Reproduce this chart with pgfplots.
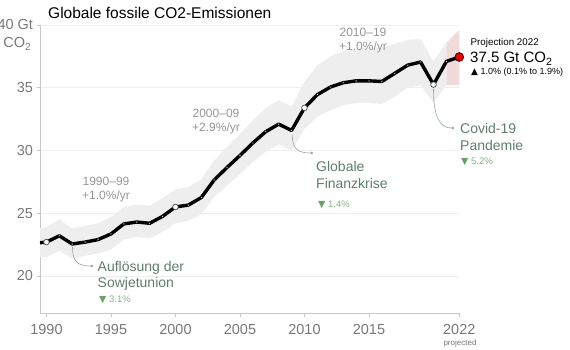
\documentclass[border=0pt]{standalone}
\usepackage{fontspec}
\setmainfont{Liberation Sans}
\newfontfamily\symfont{DejaVu Sans}
\usepackage{pgfplots}
\usepackage{pgfplotstable}
\pgfplotsset{compat=1.18}
\usepgfplotslibrary{fillbetween}
\usetikzlibrary{arrows.meta}
\definecolor{bandgray}{RGB}{238,238,238}
\definecolor{projpink}{RGB}{241,218,218}
\definecolor{tickgray}{RGB}{120,120,120}
\definecolor{pergray}{RGB}{150,150,150}
\definecolor{anngreen}{RGB}{95,125,108}
\definecolor{trigreen}{RGB}{105,160,105}
\definecolor{pctgreen}{RGB}{135,180,135}
\definecolor{leader}{RGB}{150,165,155}
\definecolor{gridc}{RGB}{238,238,238}
\definecolor{axisc}{RGB}{200,200,200}
\definecolor{reddot}{RGB}{230,0,0}

\pgfplotstableread{
year v up lo
1989.5 22.65 23.8 21.5
1990 22.7 23.9 21.5
1991 23.2 24.5 22.0
1992 22.55 23.8 21.4
1993 22.7 24.0 21.6
1994 22.9 24.2 21.8
1995 23.35 24.7 22.1
1996 24.15 25.5 22.9
1997 24.3 25.7 23.1
1998 24.2 25.6 23.0
1999 24.75 26.2 23.5
2000 25.5 26.9 24.2
2001 25.65 27.1 24.4
2002 26.25 27.7 24.9
2003 27.65 29.2 26.3
2004 28.65 30.3 27.2
2005 29.6 31.3 28.1
2006 30.6 32.4 29.1
2007 31.5 33.4 29.9
2008 32.1 34.0 30.5
2009 31.6 33.5 30.0
2010 33.4 35.5 31.7
2011 34.45 36.8 32.7
2012 35.05 37.5 33.2
2013 35.4 37.9 33.6
2014 35.55 38.1 33.8
2015 35.55 38.2 33.8
2016 35.5 38.2 33.7
2017 36.15 38.5 34.3
2018 36.8 38.8 35.0
2019 37.05 38.9 35.2
2020 35.25 37.1 33.8
2021 37.1 38.6 35.2
}\banddata

\pgfplotstableread{
year v
1989.5 22.65
1990 22.7
1991 23.2
1992 22.55
1993 22.7
1994 22.9
1995 23.35
1996 24.15
1997 24.3
1998 24.2
1999 24.75
2000 25.5
2001 25.65
2002 26.25
2003 27.65
2004 28.65
2005 29.6
2006 30.6
2007 31.5
2008 32.1
2009 31.6
2010 33.4
2011 34.45
2012 35.05
2013 35.4
2014 35.55
2015 35.55
2016 35.5
2017 36.15
2018 36.8
2019 37.05
2020 35.25
2021 37.1
2022 37.45
}\linedata

\newcommand\annfont{\fontsize{14bp}{16bp}\selectfont}
\newcommand\perfont{\fontsize{12bp}{14.5bp}\selectfont}
\newcommand\pctfont{\fontsize{9.5bp}{10bp}\selectfont}

\begin{document}
\begin{tikzpicture}
\begin{axis}[
  at={(0,0)}, anchor=south west,
  scale only axis, width=419.3bp, height=288bp,
  xmin=1989.5, xmax=2022, ymin=17.05, ymax=40,
  axis x line*=bottom, axis y line*=left,
  axis line style={draw=axisc, line width=0.8bp},
  xtick={1990,1995,2000,2005,2010,2015,2022},
  xticklabels={1990,1995,2000,2005,2010,2015,2022},
  ytick={20,25,30,35,40},
  yticklabels={20,25,30,35,40 Gt},
  xticklabel style={font=\fontsize{14.5bp}{14.5bp}\selectfont, text=tickgray, yshift=-4bp},
  yticklabel style={font=\fontsize{14.5bp}{14.5bp}\selectfont, text=tickgray},
  tick style={draw=axisc, line width=0.8bp},
  major tick length=3.5bp,
  tick align=outside,
  ymajorgrids, major grid style={draw=gridc, line width=0.8bp},
  clip=false,
]
\addplot[name path=up, draw=none] table[x=year, y=up] {\banddata};
\addplot[name path=lo, draw=none] table[x=year, y=lo] {\banddata};
\addplot[fill=bandgray, draw=none] fill between[of=up and lo];
\addplot[fill=projpink, draw=none] coordinates {(2021,35.2) (2021,38.6) (2022,39.6) (2022,35.2)} -- cycle;
\addplot[black, line width=3.4bp, line join=round] table[x=year, y=v] {\linedata};
\addplot[only marks, mark=*, mark size=1.1bp, mark options={fill=white, draw=none}, skip coords between index={0}{1}] table[x=year, y=v] {\linedata};
\addplot[only marks, mark=*, mark size=2.8bp, mark options={fill=white, draw=black!70, line width=0.7bp}] coordinates {(1990,22.7) (2000,25.5) (2010,33.4) (2020,35.25)};
\addplot[only marks, mark=*, mark size=4.4bp, mark options={fill=reddot, draw=black, line width=0.7bp}] coordinates {(2022,37.45)};
\end{axis}

\begin{scope}[x=1bp, y=-1bp, shift={(-40bp,313bp)}]
% title
\node[anchor=base west, inner sep=0, font=\fontsize{15.5bp}{17bp}\selectfont] at (48,19) {Globale fossile CO2-Emissionen};
% y unit
\node[anchor=base east, inner sep=0, text=tickgray, font=\fontsize{14.5bp}{14.5bp}\selectfont] at (31.5,48) {CO\textsubscript{2}};
% projected
\node[anchor=base, inner sep=0, text=tickgray, font=\fontsize{8bp}{8bp}\selectfont] at (460,346) {projected};
% period labels
\node[align=center, text=pergray, font=\perfont, inner sep=0] at (106,189.5) {1990–99\\+1.0\%/yr};
\node[align=center, text=pergray, font=\perfont, inner sep=0] at (216,121.5) {2000–09\\+2.9\%/yr};
\node[align=center, text=pergray, font=\perfont, inner sep=0] at (363,40.5) {2010–19\\+1.0\%/yr};
% leaders
\draw[leader, line width=0.6bp, -{Circle[length=2.6bp]}] (72.5,247) .. controls (72.5,262) and (78,266) .. (93,266);
\draw[leader, line width=0.6bp, -{Circle[length=2.6bp]}] (292.3,135) .. controls (292.3,149) and (298,153) .. (313,153);
\draw[leader, line width=0.6bp, -{Circle[length=2.6bp]}] (433.5,89) .. controls (433.5,118) and (440,128) .. (454,128);
% annotations
\node[anchor=base west, inner sep=0, text=anngreen, font=\annfont] at (97.5,272) {Auflösung der};
\node[anchor=base west, inner sep=0, text=anngreen, font=\annfont] at (97.5,288) {Sowjetunion};
\node[anchor=base west, inner sep=0, font=\pctfont] at (99,302.5) {{\symfont\color{trigreen}▼} {\color{pctgreen}3.1\%}};
\node[anchor=base west, inner sep=0, text=anngreen, font=\annfont] at (316,172) {Globale};
\node[anchor=base west, inner sep=0, text=anngreen, font=\annfont] at (316,188.5) {Finanzkrise};
\node[anchor=base west, inner sep=0, font=\pctfont] at (318,207.5) {{\symfont\color{trigreen}▼} {\color{pctgreen}1.4\%}};
\node[anchor=base west, inner sep=0, text=anngreen, font=\annfont] at (460,134) {Covid-19};
\node[anchor=base west, inner sep=0, text=anngreen, font=\annfont] at (460,151) {Pandemie};
\node[anchor=base west, inner sep=0, font=\pctfont] at (461,164.5) {{\symfont\color{trigreen}▼} {\color{pctgreen}5.2\%}};
% projection
\node[anchor=base west, inner sep=0, font=\fontsize{9.8bp}{10bp}\selectfont] at (470.5,46) {Projection 2022};
\node[anchor=base west, inner sep=0, font=\fontsize{15bp}{15bp}\selectfont] at (470,63) {37.5 Gt CO\textsubscript{2}};
\node[anchor=base west, inner sep=0, font=\fontsize{9bp}{9bp}\selectfont] at (471,74.5) {{\symfont ▲} 1.0\% (0.1\% to 1.9\%)};
\end{scope}
\pgfresetboundingbox
\useasboundingbox (-40bp,-37bp) rectangle (530bp,313bp);
\end{tikzpicture}
\end{document}
